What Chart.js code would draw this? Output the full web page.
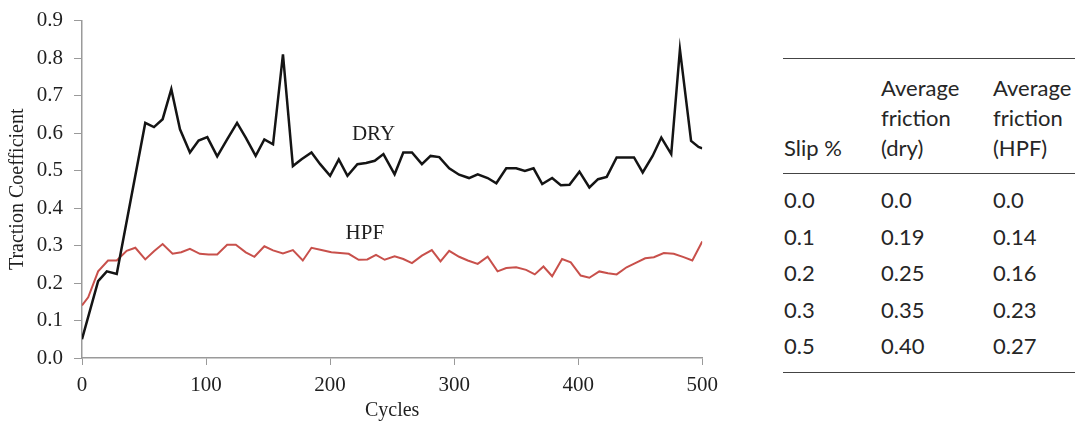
<!DOCTYPE html>
<html>
<head>
<meta charset="utf-8">
<script src="https://cdn.jsdelivr.net/npm/chart.js@4.4.1/dist/chart.umd.min.js"></script>
<style>
  body { margin: 0; background: #fff; width: 1078px; height: 423px; overflow: hidden; position: relative; }
  #chartBox { position: absolute; left: 0; top: -3px; width: 726px; height: 426px; }
  #friction { position: absolute; left: 783px; top: 58px; width: 292px; font-family: Lato, "Open Sans", sans-serif; font-size: 22px; color: #262626; }
  #friction .rule { height: 0; border-top: 1.5px solid #444; }
  #friction .row { position: relative; height: 36.5px; line-height: 36.5px; }
  #friction .head { position: relative; height: 114px; }
  #friction .head div { position: absolute; bottom: 10px; line-height: 30px; }
  #friction .body { padding: 8px 0 7px 0; }
  #friction .c0 { position: absolute; left: 1px; }
  #friction .c1 { position: absolute; left: 98px; }
  #friction .c2 { position: absolute; left: 210px; }
</style>
</head>
<body>
<div id="chartBox"><canvas id="chart" width="726" height="426"></canvas></div>
<div id="friction"></div>
<script>
// traction coefficient vs cycles
const dryCycles = [0, 13, 20, 28, 51, 58, 65, 72, 79, 87, 94, 101, 109, 117, 125, 132, 140, 147, 154, 162,
  170, 177, 185, 192, 200, 207, 214, 222, 229, 236, 243, 252, 259, 266, 274, 281, 288, 296, 304, 312,
  319, 327, 334, 342, 350, 357, 364, 371, 379, 386, 393, 401, 409, 416, 423, 431, 438, 445, 452, 460,
  467, 475, 482, 491, 497, 500];
const dryValues = [0.05, 0.205, 0.231, 0.224, 0.627, 0.616, 0.637, 0.717, 0.61, 0.548, 0.58, 0.589, 0.538, 0.583, 0.627, 0.588, 0.539, 0.583, 0.57, 0.81,
  0.512, 0.53, 0.548, 0.517, 0.486, 0.53, 0.486, 0.517, 0.52, 0.526, 0.544, 0.49, 0.548, 0.548, 0.517, 0.539, 0.536, 0.506, 0.489, 0.48,
  0.49, 0.48, 0.466, 0.506, 0.506, 0.499, 0.506, 0.464, 0.48, 0.461, 0.462, 0.497, 0.455, 0.477, 0.483, 0.535, 0.535, 0.535, 0.495, 0.539,
  0.588, 0.544, 0.823, 0.579, 0.563, 0.559];

const hpfCycles = [0, 5, 13, 21, 28, 36, 43, 51, 58, 65, 73, 80, 87, 95, 102, 109, 117, 124, 132, 139,
  147, 154, 162, 170, 178, 185, 193, 201, 208, 215, 223, 230, 237, 244, 252, 259, 266, 274, 282, 289,
  296, 304, 311, 319, 327, 335, 342, 350, 358, 365, 372, 379, 387, 394, 402, 409, 417, 424, 431, 439,
  446, 454, 461, 469, 477, 485, 492, 500];
const hpfValues = [0.14, 0.162, 0.231, 0.26, 0.26, 0.286, 0.294, 0.263, 0.285, 0.304, 0.278, 0.282, 0.291, 0.278, 0.276, 0.276, 0.302, 0.302, 0.282, 0.27,
  0.298, 0.287, 0.279, 0.288, 0.26, 0.294, 0.288, 0.282, 0.28, 0.278, 0.262, 0.263, 0.275, 0.262, 0.271, 0.264, 0.253, 0.273, 0.288, 0.258,
  0.286, 0.27, 0.26, 0.251, 0.27, 0.231, 0.24, 0.242, 0.235, 0.223, 0.244, 0.218, 0.264, 0.255, 0.22, 0.214, 0.231, 0.226, 0.223, 0.242,
  0.253, 0.266, 0.269, 0.28, 0.278, 0.269, 0.26, 0.311];

// table on the right
const tableHead = ['Slip %', 'Average\nfriction\n(dry)', 'Average\nfriction\n(HPF)'];
const slipPct = ['0.0', '0.1', '0.2', '0.3', '0.5'];
const avgDry = ['0.0', '0.19', '0.25', '0.35', '0.40'];
const avgHpf = ['0.0', '0.14', '0.16', '0.23', '0.27'];

// in-plot series labels (cycle, coefficient)
const seriesNotes = [
  { text: 'DRY', cycle: 235, value: 0.595 },
  { text: 'HPF', cycle: 228, value: 0.331 }
];

const serif = "'Liberation Serif', 'Times New Roman', serif";
const ink = '#1f1f1f';
const axisGrey = '#9a9a9a';

function toPoints(xs, ys) {
  return xs.map((x, i) => ({ x: x, y: ys[i] }));
}

const notesPlugin = {
  id: 'seriesNotes',
  afterDatasetsDraw(chart) {
    const ctx = chart.ctx;
    const xs = chart.scales.x;
    const ys = chart.scales.y;
    ctx.save();
    ctx.font = '21px ' + serif;
    ctx.fillStyle = ink;
    ctx.textAlign = 'center';
    ctx.textBaseline = 'middle';
    seriesNotes.forEach(n => {
      ctx.fillText(n.text, xs.getPixelForValue(n.cycle), ys.getPixelForValue(n.value));
    });
    ctx.restore();
  }
};

new Chart(document.getElementById('chart'), {
  type: 'line',
  data: {
    datasets: [
      {
        label: 'DRY',
        data: toPoints(dryCycles, dryValues),
        borderColor: '#141414',
        borderWidth: 2.5,
        pointRadius: 0,
        tension: 0
      },
      {
        label: 'HPF',
        data: toPoints(hpfCycles, hpfValues),
        borderColor: '#c8504b',
        borderWidth: 2,
        pointRadius: 0,
        tension: 0
      }
    ]
  },
  options: {
    responsive: false,
    animation: false,
    devicePixelRatio: 1,
    layout: { padding: { top: 16, right: 13, left: 0, bottom: 0 } },
    plugins: { legend: { display: false }, tooltip: { enabled: false } },
    scales: {
      x: {
        type: 'linear',
        min: 0,
        max: 500,
        ticks: { stepSize: 100, font: { family: serif, size: 21 }, color: ink, padding: 8, maxRotation: 0 },
        grid: { drawOnChartArea: false, tickLength: 7, color: axisGrey },
        border: { color: axisGrey, width: 1.5 },
        title: { display: true, text: 'Cycles', font: { family: serif, size: 20 }, color: ink, padding: { top: 2, bottom: 0 } },
        afterFit: s => { s.height = 65; }
      },
      y: {
        min: 0,
        max: 0.9,
        ticks: { stepSize: 0.1, callback: v => v.toFixed(1), font: { family: serif, size: 21 }, color: ink, padding: 11 },
        grid: { drawOnChartArea: false, tickLength: 8, color: axisGrey },
        border: { color: axisGrey, width: 1.5 },
        title: { display: true, text: 'Traction Coefficient', font: { family: serif, size: 20 }, color: ink, padding: { top: 6, bottom: 2 } },
        afterFit: s => { s.width = 82; }
      }
    }
  },
  plugins: [notesPlugin]
});

// build the friction table
const tbl = document.getElementById('friction');
let html = '<div class="rule"></div><div class="head">';
tableHead.forEach((h, i) => {
  html += '<div class="c' + i + '">' + h.split('\n').join('<br>') + '</div>';
});
html += '</div><div class="rule"></div><div class="body">';
slipPct.forEach((s, i) => {
  html += '<div class="row"><span class="c0">' + s + '</span><span class="c1">' + avgDry[i] +
    '</span><span class="c2">' + avgHpf[i] + '</span></div>';
});
html += '</div><div class="rule"></div>';
tbl.innerHTML = html;
</script>
</body>
</html>
